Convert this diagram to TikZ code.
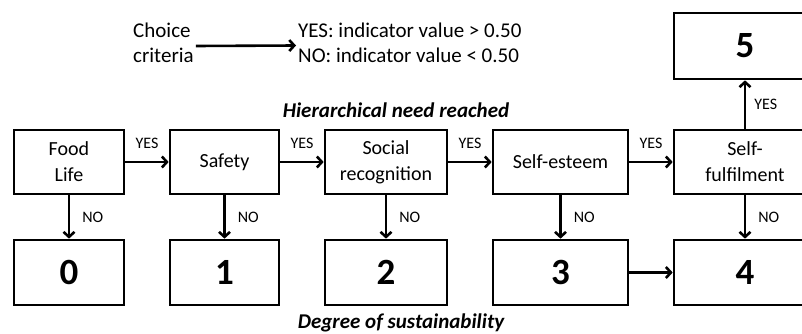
\documentclass[tikz,border=0pt]{standalone}
\usepackage{fontspec}
\setmainfont{Carlito}
\usetikzlibrary{arrows.meta}
\tikzset{
  box/.style={draw=black, line width=2.7pt, fill=white, inner sep=0pt, align=center,
    font=\fontsize{20}{26}\selectfont},
  numbox/.style={box, font=\fontsize{37}{40}\selectfont\bfseries},
  arr/.style={line width=2.6pt, -{Straight Barb[length=5pt,width=11pt]}},
  lbl/.style={inner sep=2pt, font=\fontsize{16}{18}\selectfont},
  plain/.style={inner sep=2pt, align=left, font=\fontsize{21}{25}\selectfont},
  ttl/.style={inner sep=0pt, font=\fontsize{21}{24}\selectfont\bfseries\itshape}
}
\begin{document}
\begin{tikzpicture}[x=1pt,y=-1pt]
\useasboundingbox (0,0) rectangle (802,334);
\clip (0,0) rectangle (802,334);
\fill[white] (0,0) rectangle (802,334);
% legend
\node[plain, anchor=west] (crit) at (131,43) {Choice\\criteria};
\node[plain, anchor=west] (rule) at (296,42.5) {YES: indicator value > 0.50\\NO: indicator value < 0.50};
\draw[arr] ([yshift=-3pt]crit.east) -- ([yshift=-3pt]rule.west);
% titles
\node[ttl] (hier) at (396,110) {Hierarchical need reached};
\node[ttl] (deg) at (401,323) {Degree of sustainability};
% upper row
\node[box, minimum width=110pt, minimum height=64pt] (a) at (69,162) {Food\\Life};
\node[box, minimum width=109pt, minimum height=64pt] (b) at (224.5,162) {Safety};
\node[box, minimum width=122pt, minimum height=64pt] (c) at (386,162) {Social\\recognition};
\node[box, minimum width=135pt, minimum height=64pt] (d) at (560.5,162) {Self-esteem};
\node[box, minimum width=142pt, minimum height=64pt] (e) at (745,162) {Self-\\fulfilment};
% lower row
\node[numbox, minimum width=110pt, minimum height=65pt] (a0) at (69,272.5) {0};
\node[numbox, minimum width=109pt, minimum height=65pt] (b0) at (224.5,272.5) {1};
\node[numbox, minimum width=122pt, minimum height=65pt] (c0) at (386,272.5) {2};
\node[numbox, minimum width=135pt, minimum height=65pt] (d0) at (560.5,272.5) {3};
\node[numbox, minimum width=142pt, minimum height=65pt] (e0) at (745,272.5) {4};
% top box
\node[numbox, minimum width=142pt, minimum height=66pt] (f) at (745,46) {5};
% YES arrows
\draw[arr] (a) -- (b) node[lbl, midway, above=10pt] {YES};
\draw[arr] (b) -- (c) node[lbl, midway, above=10pt] {YES};
\draw[arr] (c) -- (d) node[lbl, midway, above=10pt] {YES};
\draw[arr] (d) -- (e) node[lbl, midway, above=10pt] {YES};
\draw[arr] (e) -- (f) node[lbl, midway, right=6pt] {YES};
% NO arrows
\draw[arr] (a) -- (a0) node[lbl, midway, right=10pt] {NO};
\draw[arr] (b) -- (b0) node[lbl, midway, right=10pt] {NO};
\draw[arr] (c) -- (c0) node[lbl, midway, right=10pt] {NO};
\draw[arr] (d) -- (d0) node[lbl, midway, right=10pt] {NO};
\draw[arr] (e) -- (e0) node[lbl, midway, right=10pt] {NO};
% 3 -> 4
\draw[arr] (d0) -- (e0);
\end{tikzpicture}
\end{document}
